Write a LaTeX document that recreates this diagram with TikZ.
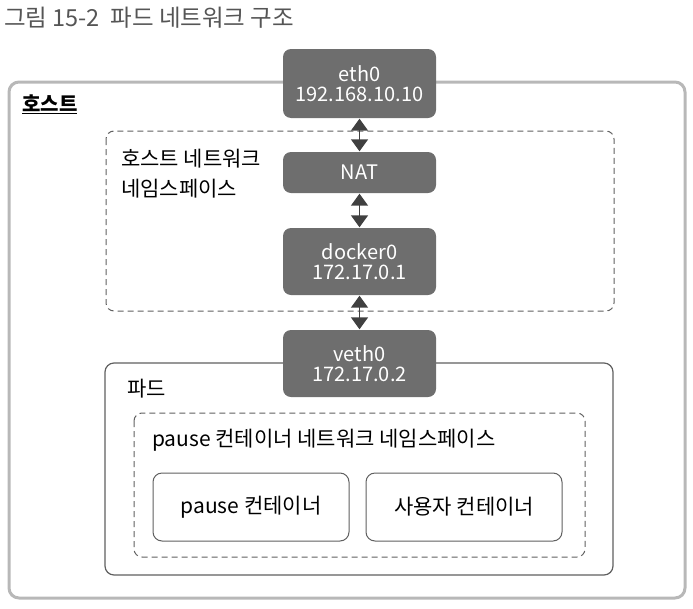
\documentclass[tikz,border=0pt]{standalone}
\usepackage{fontspec}
\setmainfont{Noto Sans CJK KR}
\usetikzlibrary{arrows.meta}
\definecolor{boxgray}{HTML}{6E6E6E}
\definecolor{hostgray}{HTML}{B8B8B8}
\definecolor{podgray}{HTML}{606060}
\definecolor{arrowgray}{HTML}{404040}
\definecolor{titlegray}{HTML}{555555}
\begin{document}
\begin{tikzpicture}[x=1pt,y=-1pt,
  darkbox/.style={fill=boxgray, rounded corners=8pt, text=white, align=center, font=\fontsize{20}{22}\selectfont, inner sep=0pt},
  contbox/.style={draw=podgray, line width=1pt, rounded corners=9pt, fill=white, font=\fontsize{21}{22}\selectfont, inner sep=0pt},
  lbl/.style={anchor=west, inner sep=0pt, font=\fontsize{21}{22}\selectfont, text=black},
  dashframe/.style={draw=podgray, line width=1pt, dash pattern=on 6pt off 4pt, rounded corners=8pt},
  biarrow/.style={arrowgray, line width=1.5pt, {Triangle[width=17pt,length=12pt]}-{Triangle[width=17pt,length=12pt]}, shorten <=0.5pt, shorten >=0.5pt}
]
\useasboundingbox (0,0) rectangle (693,608);
% title
\node[lbl, text=titlegray, font=\fontsize{23.5}{24}\selectfont] (title) at (4,18) {그림 15-2\ \ 파드 네트워크 구조};
% host frame
\draw[hostgray, line width=3pt, rounded corners=10pt] (9,82) rectangle (685,598);
\node[lbl, font=\fontsize{20}{22}\selectfont\bfseries] (host) at (22,104) {\underline{호스트}};
% host network namespace
\draw[dashframe] (106,131) rectangle (614,311);
\node[lbl] (hostns1) at (121,159) {호스트 네트워크};
\node[lbl] (hostns2) at (121,189) {네임스페이스};
% pod frame
\draw[podgray, line width=1.2pt, rounded corners=9pt] (105,363) rectangle (613,575);
\node[lbl] (pod) at (127,389) {파드};
% pause namespace
\draw[dashframe] (134,413) rectangle (585,557);
\node[lbl] (pausens) at (152,440) {pause 컨테이너 네트워크 네임스페이스};
% dark boxes
\node[darkbox, minimum width=153pt, minimum height=69pt] (eth0) at (359.5,83.5) {eth0\\[-2pt]192.168.10.10};
\node[darkbox, minimum width=153pt, minimum height=41pt] (nat) at (359.5,172.5) {NAT};
\node[darkbox, minimum width=153pt, minimum height=67pt] (docker0) at (359.5,261.5) {docker0\\[-2pt]172.17.0.1};
\node[darkbox, minimum width=153pt, minimum height=67pt] (veth0) at (359.5,363.5) {veth0\\[-2pt]172.17.0.2};
% containers
\node[contbox, minimum width=196pt, minimum height=68pt] (pausec) at (251,507) {pause 컨테이너};
\node[contbox, minimum width=196pt, minimum height=68pt] (userc) at (464,507) {사용자 컨테이너};
% arrows
\draw[biarrow] (eth0.south) -- (nat.north);
\draw[biarrow] (nat.south) -- (docker0.north);
\draw[biarrow] (docker0.south) -- (veth0.north);
\end{tikzpicture}
\end{document}
